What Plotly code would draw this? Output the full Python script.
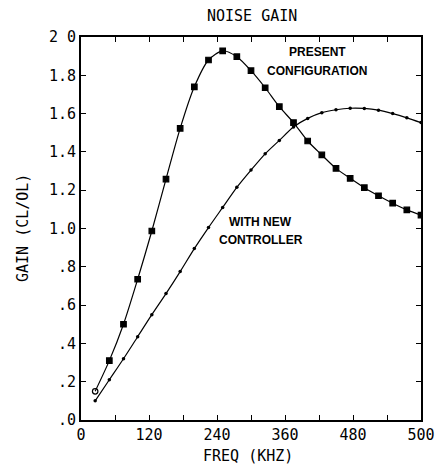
import plotly.graph_objects as go

freq = [25, 50, 75, 100, 125, 150, 175, 200, 225, 250, 275, 300,
        325, 350, 375, 400, 425, 450, 475, 500, 525, 550, 575, 600]
present = [0.15, 0.31, 0.50, 0.735, 0.987, 1.258, 1.523, 1.74, 1.88, 1.928, 1.897, 1.824,
           1.735, 1.636, 1.553, 1.457, 1.384, 1.314, 1.262, 1.213, 1.171, 1.132, 1.097, 1.07]
new_ctrl = [0.10, 0.21, 0.32, 0.435, 0.55, 0.66, 0.775, 0.895, 1.005, 1.11, 1.215, 1.305,
            1.39, 1.46, 1.53, 1.575, 1.605, 1.62, 1.628, 1.627, 1.618, 1.60, 1.578, 1.553]

x_tickvals = [0, 60, 120, 180, 240, 300, 360, 420, 480, 540, 600]
x_ticktext = ["0", "", "120", "", "240", "", "360", "", "480", "", "500"]
y_tickvals = [0, 0.2, 0.4, 0.6, 0.8, 1.0, 1.2, 1.4, 1.6, 1.8, 2.0]
y_ticktext = [".0", ".2", ".4", ".6", ".8", "1.0", "1.2", "1.4", "1.6", "1.8", "2 0"]

present_symbols = ["circle-open"] + ["square"] * (len(freq) - 1)

fig = go.Figure()
fig.add_trace(go.Scatter(
    x=freq, y=present, mode="lines+markers",
    line=dict(color="black", width=1.2, shape="spline", smoothing=0.8),
    marker=dict(color="black", size=5.5, symbol=present_symbols,
                line=dict(color="black", width=1.2)),
    showlegend=False))
fig.add_trace(go.Scatter(
    x=freq, y=new_ctrl, mode="lines+markers",
    line=dict(color="black", width=1.2, shape="spline", smoothing=0.8),
    marker=dict(color="black", size=3.5, symbol="circle"),
    showlegend=False))

mono = "DejaVu Sans Mono"
label_font = dict(family="Liberation Sans", size=12, color="black")

fig.update_layout(
    width=447, height=467,
    margin=dict(l=81, r=18, t=37, b=47),
    paper_bgcolor="white", plot_bgcolor="white",
    font=dict(family=mono, color="black"),
    xaxis=dict(range=[0, 600], tickvals=x_tickvals, ticktext=x_ticktext,
               ticks="inside", ticklen=5, tickwidth=1.2, tickcolor="black",
               showline=True, linecolor="black", linewidth=2, mirror="allticks",
               showgrid=False, zeroline=False,
               tickfont=dict(family=mono, size=15, color="black")),
    yaxis=dict(range=[0, 2.0], tickvals=y_tickvals, ticktext=y_ticktext,
               ticks="inside", ticklen=5, tickwidth=1.2, tickcolor="black",
               showline=True, linecolor="black", linewidth=2, mirror="allticks",
               showgrid=False, zeroline=False,
               tickfont=dict(family=mono, size=15, color="black")),
    annotations=[
        dict(text="NOISE GAIN", xref="paper", yref="paper", x=0.503, y=1.055,
             xanchor="center", yanchor="middle",
             showarrow=False, font=dict(family=mono, size=15, color="black")),
        dict(text="FREQ (KHZ)", xref="paper", yref="paper", x=0.491, y=-0.094,
             xanchor="center", yanchor="middle",
             showarrow=False, font=dict(family=mono, size=15, color="black")),
        dict(text="GAIN (CL/OL)", xref="paper", yref="paper", x=-0.172, y=0.50,
             xanchor="center", yanchor="middle",
             textangle=-90, showarrow=False,
             font=dict(family=mono, size=15, color="black")),
        dict(text="<b>PRESENT</b>", x=417, y=1.92, showarrow=False, font=label_font),
        dict(text="<b>CONFIGURATION</b>", x=416, y=1.82, showarrow=False, font=label_font),
        dict(text="<b>WITH NEW</b>", x=316, y=1.034, showarrow=False, font=label_font),
        dict(text="<b>CONTROLLER</b>", x=317, y=0.94, showarrow=False, font=label_font),
    ],
)

fig.write_html("out.html")
